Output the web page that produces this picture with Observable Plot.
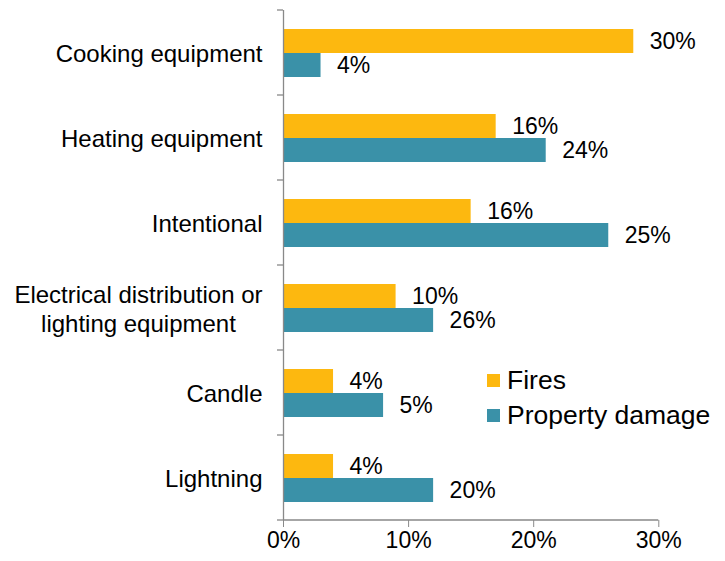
<!DOCTYPE html>
<html><head><meta charset="utf-8">
<script src="https://cdn.jsdelivr.net/npm/d3@7"></script>
<script src="https://cdn.jsdelivr.net/npm/@observablehq/plot@0.6"></script>
<style>
body{margin:0;background:#fff;}
#wrap{position:relative;width:725px;height:561px;font-family:"Liberation Sans",Arial,sans-serif;}
#legend{position:absolute;left:487px;top:363px;font-size:26.5px;color:#000;line-height:1;}
.row{display:flex;align-items:center;height:35px;}
.sw{width:13px;height:13px;margin-right:7px;flex:none;}
</style></head><body>
<div id="wrap"><div id="legend"></div></div>
<script>
const categories = ["Cooking equipment","Heating equipment","Intentional","Electrical distribution or\nlighting equipment","Candle","Lightning"];
const series = ["Fires","Property damage"];
const firesBar = [28,17,15,9,4,4];
const damageBar = [3,21,26,12,8,12];
const firesLabel = ["30%","16%","16%","10%","4%","4%"];
const damageLabel = ["4%","24%","25%","26%","5%","20%"];
const xTicks = [0,10,20,30];
const colors = ["#FDB80F","#3A91A8"];

const rows = categories.flatMap((c,i)=>[
  {category:c, series:series[0], value:firesBar[i], label:firesLabel[i]},
  {category:c, series:series[1], value:damageBar[i], label:damageLabel[i]}
]);

const font = '"Liberation Sans", Arial, sans-serif';
const plot = Plot.plot({
  width:725, height:561,
  marginLeft:283, marginRight:66.7, marginTop:10, marginBottom:41,
  style:{fontFamily:font, fontSize:"23px", color:"#000", background:"#fff", overflow:"visible"},
  x:{domain:[0,30]},
  y:{domain:series, paddingInner:0, paddingOuter:0.75, axis:null},
  fy:{domain:categories, padding:0},
  color:{domain:series, range:colors},
  marks:[
    Plot.barX(rows,{x:"value", y:"series", fy:"category", fill:"series"}),
    Plot.text(rows,{x:"value", y:"series", fy:"category", text:"label", textAnchor:"start", dx:16, fontSize:23, fill:"#000"}),
    Plot.ruleX([0],{stroke:"#898989", strokeWidth:1.3}),
    Plot.axisX({ticks:xTicks, tickFormat:d=>d+"%", tickSize:7, tickPadding:4, stroke:"#898989", strokeOpacity:1, fill:"#000", fontSize:23, label:null}),
    Plot.axisFy({anchor:"left", tickSize:0, tickPadding:21, label:null, fontSize:24, lineHeight:1.2, fill:"#000"})
  ]
});

const x = plot.scale("x"), fy = plot.scale("fy");
const svg = d3.select(plot);
const x0 = x.apply(0), x1 = x.apply(30);
const bottom = fy.range[1];
const g = svg.append("g").attr("stroke","#898989").attr("stroke-width",1.3);
g.append("line").attr("x1",x0).attr("x2",x1).attr("y1",bottom).attr("y2",bottom);
categories.map(c=>fy.apply(c)).concat([bottom]).forEach(b=>
  g.append("line").attr("x1",x0-6).attr("x2",x0).attr("y1",b).attr("y2",b));

const wrap = document.getElementById("wrap");
wrap.insertBefore(plot, wrap.firstChild);

// center the lines of a multi-line category label within its right-aligned block
svg.selectAll("text").each(function(){
  const spans = this.querySelectorAll("tspan");
  if (spans.length > 1) {
    const w = d3.max(Array.from(spans), s => s.getComputedTextLength());
    d3.select(this).attr("text-anchor","middle");
    spans.forEach(s => s.setAttribute("x", -w/2));
  }
});

const legend = d3.select("#legend");
series.forEach((s,i)=>{
  const r = legend.append("div").attr("class","row");
  r.append("div").attr("class","sw").style("background",colors[i]);
  r.append("span").text(s);
});
</script>
</body></html>
